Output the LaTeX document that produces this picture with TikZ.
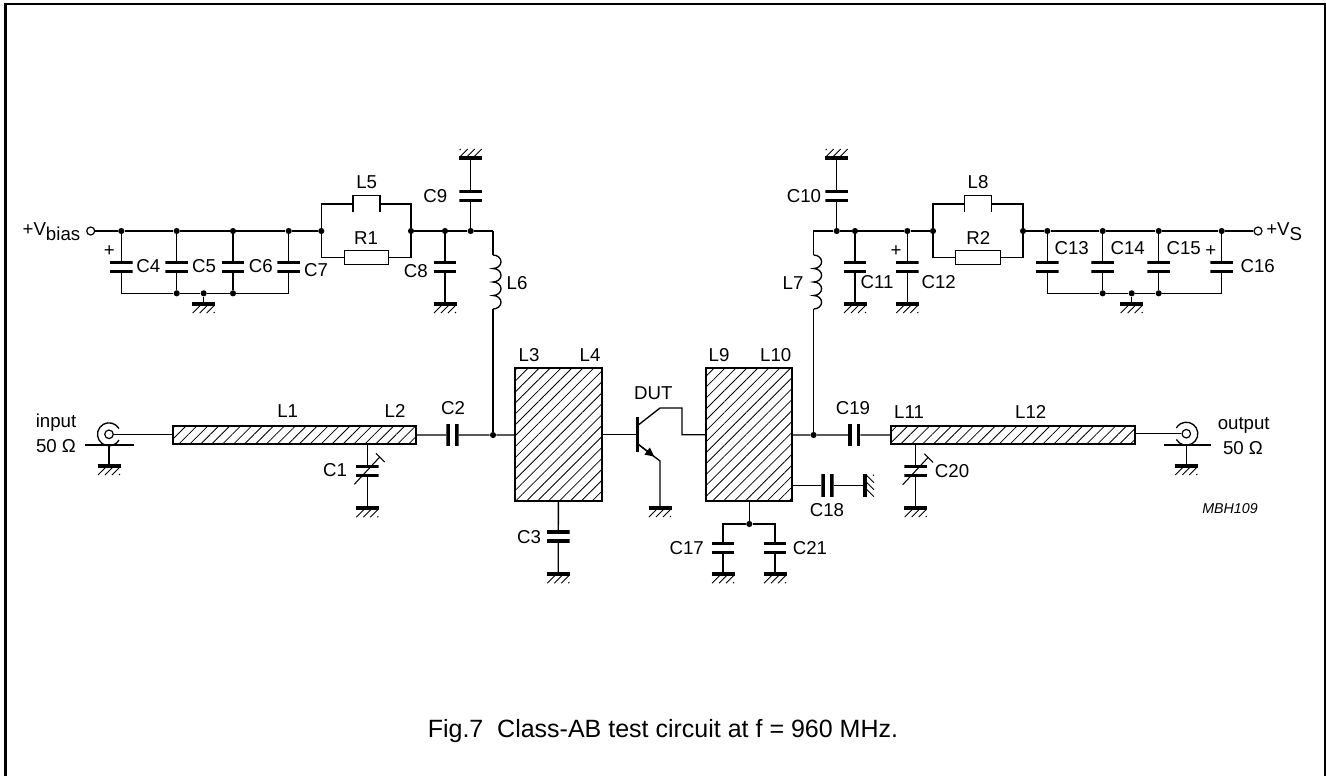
\documentclass[tikz,border=0pt]{standalone}
\usepackage{fontspec}
\setmainfont{Liberation Sans}
\usetikzlibrary{arrows.meta,patterns.meta}

\tikzset{
  wire/.style={line width=1pt},
  lab/.style={font=\fontsize{14}{17}\selectfont,inner sep=0pt},
  dot/.style={circle,fill=black,inner sep=0pt,minimum size=4.6pt},
  term/.style={circle,draw,fill=white,line width=.9pt,inner sep=0pt,minimum size=6pt},
  strip/.style={draw,line width=1.5pt,inner sep=0pt,outer sep=0pt,
    pattern={Lines[angle=45,distance=5.8pt,line width=.6pt]}},
  res/.style={draw,line width=.9pt,inner sep=0pt,minimum width=33.5pt,minimum height=10pt},
  capv/.style={inner sep=0pt,outer sep=0pt,minimum width=17pt,minimum height=9.2pt,
    path picture={
      \draw[line width=2.5pt] ([yshift=-1.25pt]path picture bounding box.north west) -- ([yshift=-1.25pt]path picture bounding box.north east);
      \draw[line width=2.5pt] ([yshift=1.25pt]path picture bounding box.south west) -- ([yshift=1.25pt]path picture bounding box.south east);
    }},
  caph/.style={inner sep=0pt,outer sep=0pt,minimum width=9.2pt,minimum height=17pt,
    path picture={
      \draw[line width=2.5pt] ([xshift=1.25pt]path picture bounding box.north west) -- ([xshift=1.25pt]path picture bounding box.south west);
      \draw[line width=2.5pt] ([xshift=-1.25pt]path picture bounding box.north east) -- ([xshift=-1.25pt]path picture bounding box.south east);
    }},
  pics/gnd/.style={code={
    \coordinate (-in) at (0,0);
    \draw[line width=2.6pt] (-11.5,1) -- (11.5,1);
    \draw[line width=.7pt] (-11,10) -- (-3,2) (-4,10) -- (4,2) (3,10) -- (11,2) (10,10) -- (11,9);
  }},
  pics/coil/.style={code={
    \coordinate (-t) at (0,0);
    \coordinate (-b) at (0,54);
    \draw[wire] (-t) \foreach \i in {1,...,4} {arc[start angle=-90,end angle=90,x radius=8,y radius=6.75]};
  }},
}

\begin{document}
\begin{tikzpicture}[x=.75pt,y=-.75pt]
\useasboundingbox (0,0) rectangle (1326,776);

% Frame and caption
\draw[line width=1.7pt] (5.5,776) -- (5.5,4) -- (1325,4) -- (1325,776);
\node[lab,font=\fontsize{18.75}{22}\selectfont,anchor=base west] (caption) at (427.5,737.7) {Fig.7\ \ Class-AB test circuit at f = 960 MHz.};
\node[lab,font=\fontsize{10.7}{13}\selectfont\itshape] (mbh) at (1230,509) {MBH109};

% Bias rail
\node[term] (Vb) at (90.7,231) {};
\node[lab,anchor=base east] (tVb) at (80.5,235) {+V\raisebox{-4.3pt}{bias}};
\foreach \n/\x in {a/121.3,b/176.7,c/233,d/288.7,e/321.3,f/411,g/445,h/470.7}
  \node[dot] (\n) at (\x,231) {};
\coordinate (cornerL) at (493,231);
\draw[wire] (Vb) -- (a) -- (b) -- (c) -- (d) -- (e) (f) -- (g) -- (h) -- (cornerL);

% Bias decoupling
\foreach \n/\m/\x in {C4/a/121.3,C5/b/176.7,C6/c/233,C7/d/288.7}{
  \node[capv] (\n) at (\x,266.8) {};
  \draw[wire] (\m) -- (\n);
}
\coordinate (botA) at (121.3,293.3);
\coordinate (botD) at (288.7,293.3);
\node[dot] (botB) at (176.7,293.3) {};
\node[dot] (botC) at (233,293.3) {};
\node[dot] (botG) at (203.7,293.3) {};
\draw[wire] (C4) -- (botA) -- (botB) -- (botG) -- (botC) -- (botD) -- (C7);
\draw[wire] (C5) -- (botB) (C6) -- (botC);
\pic (G5) at (203.7,303) {gnd};
\draw[wire] (botG) -- (G5-in);

% L5 and R1
\coordinate (L5a) at (321.3,204);
\coordinate (L5b) at (411,204);
\coordinate (L5c) at (353,204);
\coordinate (L5d) at (380,204);
\draw[wire] (e) -- (L5a) -- (L5c) (L5d) -- (L5b) -- (f);
\draw[line width=.9pt] (353,212.3) -- (353,195.3) -- (380,195.3) -- (380,212.3);
\node[res] (R1) at (366.5,257.5) {};
\draw[wire] (e) |- (R1) (f) |- (R1);

% C8 and C9
\node[capv] (C8) at (445,266.8) {};
\pic (G8) at (445,303) {gnd};
\draw[wire] (g) -- (C8) -- (G8-in);
\node[capv] (C9) at (470.7,195.8) {};
\pic[rotate=180] (G9) at (470.7,159) {gnd};
\draw[wire] (h) -- (C9) -- (G9-in);

% L6 down to the input line
\pic (L6) at (493,255) {coil};
\node[dot] (in) at (493,435) {};
\draw[wire] (cornerL) -- (L6-t) (L6-b) -- (in);

% Input connector and L1 L2
\node[circle,draw,line width=.9pt,inner sep=0pt,minimum size=6.4pt] (Jin) at (109,434.3) {};
\draw[line width=1pt] (Jin.center) ++(-30:11.5) arc[start angle=-30,end angle=-330,radius=11.5];
\coordinate (JinL) at (85,445);
\coordinate (JinR) at (133.7,445);
\coordinate (JinS) at (109,445);
\draw[line width=.9pt] (JinL) -- (JinR);
\pic (G0) at (109,465) {gnd};
\draw[wire] (JinS) -- (G0-in);
\node[strip,minimum width=182.5pt,minimum height=13.5pt] (L1L2) at (294.3,435) {};
\draw[wire] (Jin) -- (Jin -| L1L2.west);

% C1 trimmer
\coordinate (C1top) at (367.3,444);
\node[capv] (C1) at (367.3,470.8) {};
\pic (G1) at (367.3,507.2) {gnd};
\draw[wire] (C1top) -- (C1) -- (G1-in);
\coordinate (C1a) at (354.3,484.3);
\coordinate (C1b) at (380,456.7);
\draw[line width=.8pt] (C1a) -- (C1b) (376,453.3) -- (384.7,462);

% C2 and L3 L4
\node[caph] (C2) at (452.5,435) {};
\node[strip,minimum width=64.8pt,minimum height=99.5pt] (L3L4) at (558.5,434.7) {};
\draw[wire] (L1L2) -- (C2) -- (in) -- (L3L4);

% C3
\node[capv] (C3) at (558.3,536.5) {};
\pic (G3) at (558.3,573.2) {gnd};
\draw[wire] (L3L4) -- (C3) -- (G3-in);

% DUT
\coordinate (B) at (637.7,434.7);
\draw[wire] (L3L4) -- (B);
\draw[line width=2.4pt] (637.7,417.3) -- (637.7,452.3);
\node[strip,minimum width=64.8pt,minimum height=99.5pt] (L9L10) at (748.7,434.7) {};
\coordinate (Coll) at (660,408);
\coordinate (CollR) at (682,408);
\coordinate (CollD) at (682,434.7);
\draw[wire] (638.3,425) -- (Coll) -- (CollR) -- (CollD) -- (CollD -| L9L10.west);
\coordinate (Em0) at (638.3,444.3);
\coordinate (Em1) at (660,461);
\pic (G2) at (660,507) {gnd};
\draw[wire] (Em0) -- (Em1) -- (G2-in);
\draw[wire,-{Triangle[length=6.8pt,width=6.4pt]}] (Em0) -- (654.3,456.6);

% C17 C21 under L9 L10
\node[dot] (u) at (749.3,524) {};
\draw[wire] (u) -- (u |- L9L10.south);
\node[capv] (C17) at (723,548.2) {};
\node[capv] (C21) at (775,548.2) {};
\pic (G17) at (723,573.2) {gnd};
\pic (G21) at (775,573.2) {gnd};
\draw[wire] (u) -| (C17);
\draw[wire] (u) -| (C21);
\draw[wire] (C17) -- (G17-in) (C21) -- (G21-in);

% C18
\node[caph] (C18) at (827.5,485.7) {};
\pic[rotate=90] (G18) at (864,485.7) {gnd};
\draw[wire] (C18 -| L9L10.east) -- (C18) -- (G18-in);

% Output line
\node[dot] (out) at (813.6,435) {};
\node[caph] (C19) at (854.3,435) {};
\node[strip,minimum width=183.3pt,minimum height=13.5pt] (L11L12) at (1012.8,434.7) {};
\draw[wire] (L9L10) -- (out) -- (C19) -- (L11L12);
\pic (L7) at (813.6,255) {coil};
\draw[wire] (L7-b) -- (out);

% C20 trimmer
\coordinate (C20top) at (915.7,444);
\node[capv] (C20) at (915.7,471.2) {};
\pic (G20) at (915.7,507) {gnd};
\draw[wire] (C20top) -- (C20) -- (G20-in);
\draw[line width=.8pt] (902.7,484.7) -- (928.4,457.1) (924.4,453.7) -- (933.1,462.4);

% Output connector
\node[circle,draw,line width=.9pt,inner sep=0pt,minimum size=6.4pt] (Jout) at (1186.3,433.7) {};
\draw[line width=1pt] (Jout.center) ++(150:11.5) arc[start angle=150,end angle=-150,radius=11.5];
\coordinate (JoutL) at (1164.3,445);
\coordinate (JoutR) at (1210.7,445);
\coordinate (JoutS) at (1186.3,445);
\draw[line width=.9pt] (JoutL) -- (JoutR);
\pic (G22) at (1186.3,465) {gnd};
\draw[wire] (JoutS) -- (G22-in);
\draw[wire] (Jout) -- (Jout -| L11L12.east);

% Supply rail
\node[term] (Vs) at (1258,231) {};
\node[lab,anchor=base west] (tVs) at (1266,235) {+V\raisebox{-4.3pt}{S}};
\foreach \n/\x in {p/836.7,q/855,r/907.3,s/933,t/1023,v/1047.3,w/1102.7,y/1158.7,z/1221.7}
  \node[dot] (\n) at (\x,231) {};
\coordinate (cornerR) at (813.6,231);
\draw[wire] (L7-t) -- (cornerR) -- (p) -- (q) -- (r) -- (s) (t) -- (v) -- (w) -- (y) -- (z) -- (Vs);

% C10 C11 C12
\node[capv] (C10) at (836.7,195.8) {};
\pic[rotate=180] (G10) at (836.7,159) {gnd};
\draw[wire] (p) -- (C10) -- (G10-in);
\node[capv] (C11) at (855,266.8) {};
\pic (G11) at (855,303) {gnd};
\draw[wire] (q) -- (C11) -- (G11-in);
\node[capv] (C12) at (907.3,266.8) {};
\pic (G12) at (907.3,303) {gnd};
\draw[wire] (r) -- (C12) -- (G12-in);

% L8 and R2
\coordinate (L8a) at (933,204);
\coordinate (L8b) at (1023,204);
\coordinate (L8c) at (964.7,204);
\coordinate (L8d) at (991.3,204);
\draw[wire] (s) -- (L8a) -- (L8c) (L8d) -- (L8b) -- (t);
\draw[line width=.9pt] (964.7,212.3) -- (964.7,195.3) -- (991.3,195.3) -- (991.3,212.3);
\node[res] (R2) at (978,257.5) {};
\draw[wire] (s) |- (R2) (t) |- (R2);

% Supply decoupling
\foreach \n/\m/\x in {C13/v/1047.3,C14/w/1102.7,C15/y/1158.7,C16/z/1221.7}{
  \node[capv] (\n) at (\x,266.8) {};
  \draw[wire] (\m) -- (\n);
}
\coordinate (botV) at (1047.3,293.3);
\coordinate (botZ) at (1221.7,293.3);
\node[dot] (botW) at (1102.7,293.3) {};
\node[dot] (botY) at (1158.7,293.3) {};
\node[dot] (botH) at (1131.7,293.3) {};
\draw[wire] (C13) -- (botV) -- (botW) -- (botH) -- (botY) -- (botZ) -- (C16);
\draw[wire] (C14) -- (botW) (C15) -- (botY);
\pic (G14) at (1131.7,303) {gnd};
\draw[wire] (botH) -- (G14-in);

% Text labels
\foreach \n/\t/\x/\y in {
  lC4/C4/148.3/266, lC5/C5/204/266, lC6/C6/260.7/266, lC7/C7/316/270.3,
  lC8/C8/415.7/270.7, lC9/C9/435.3/196.3, lL5/L5/366.7/182.3, lR1/R1/366/238.3,
  lL6/L6/517/283, lL7/L7/793/283, lL1/L1/287.7/411.3, lL2/L2/395/411.3,
  lC2/C2/453/408, lC1/C1/335/470, lL3/L3/529/355, lL4/L4/590/355,
  lL9/L9/719/355, lL10/L10/775.7/355, lDUT/DUT/653.3/392.7, lC3/C3/529/537,
  lC17/C17/686.7/548, lC21/C21/810/548, lC18/C18/827/510.3, lC19/C19/853/408,
  lL11/L11/909/411.7, lL12/L12/1030.7/411.7, lC20/C20/952/470.7,
  lC10/C10/804/196.3, lC11/C11/877/281.7, lC12/C12/938.7/281.7,
  lL8/L8/978/182.3, lR2/R2/978.3/238.3, lC13/C13/1071.7/248.3,
  lC14/C14/1127.7/248.3, lC15/C15/1183.7/248.3, lC16/C16/1257.7/266.3,
  pA/+/109.3/250.7, pB/+/896/250.7, pC/+/1210.7/250.7,
  input/input/56/423, output/output/1243.7/425}
  \node[lab] (\n) at (\x,\y) {\t};
\node[lab] (ohmA) at (56,446) {50 Ω};
\node[lab] (ohmB) at (1243,448) {50 Ω};
\end{tikzpicture}
\end{document}
